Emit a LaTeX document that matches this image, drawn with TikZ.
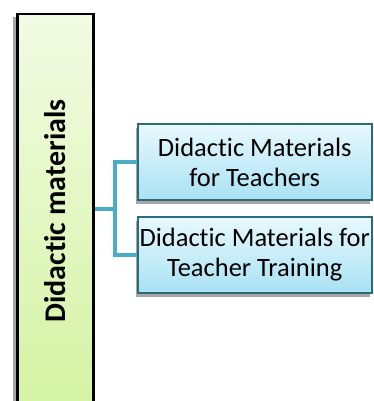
\documentclass[tikz,border=0pt]{standalone}
\usepackage{fontspec}
\setmainfont[Ligatures={NoCommon,NoRequired,NoContextual}]{Carlito}
\usetikzlibrary{shadows,fadings}
\definecolor{conn}{HTML}{4BACC6}
\definecolor{bluetop}{HTML}{E8F8FD}
\definecolor{bluebot}{HTML}{A8E2F4}
\definecolor{blueedge}{HTML}{2E6B7A}
\definecolor{greentop}{HTML}{F2FBE4}
\definecolor{greenbot}{HTML}{D4F3A2}
\tikzset{
  mainbox/.style={draw=black, line width=2.5pt, top color=greentop, bottom color=greenbot,
    drop shadow={shadow xshift=-4pt, shadow yshift=-3pt, opacity=0.35, fill=black}},
  subbox/.style={draw=blueedge, line width=1.5pt, top color=bluetop, bottom color=bluebot,
    drop shadow={shadow xshift=-2pt, shadow yshift=-4pt, opacity=0.35, fill=black},
    minimum width=234pt, minimum height=76pt, inner sep=0pt, align=center,
    font=\fontsize{26.5}{30}\selectfont},
  connector/.style={draw=conn, line width=4pt}
}
\begin{document}
\begin{tikzpicture}[x=1pt,y=-1pt]
\useasboundingbox (0,0) rectangle (373,401);
\begin{scope}
\clip (0,0) rectangle (373,401);
\node[mainbox, minimum width=76pt, minimum height=400pt, inner sep=0pt, anchor=north west] (main) at (16,13) {};
\node[rotate=90, font=\fontsize{30}{34}\selectfont\bfseries] (mainlabel) at (55,211) {Didactic materials};
\coordinate (split) at (115,209);
\node[subbox, anchor=west] (b1) at (137,162) {Didactic Materials\\for Teachers};
\node[subbox, anchor=west] (b2) at (137,255) {Didactic Materials for\\Teacher Training};
\draw[connector] (main.east |- split) -- (split);
\draw[connector] (b1.west) -| (split) |- (b2.west);
\end{scope}
\end{tikzpicture}
\end{document}
